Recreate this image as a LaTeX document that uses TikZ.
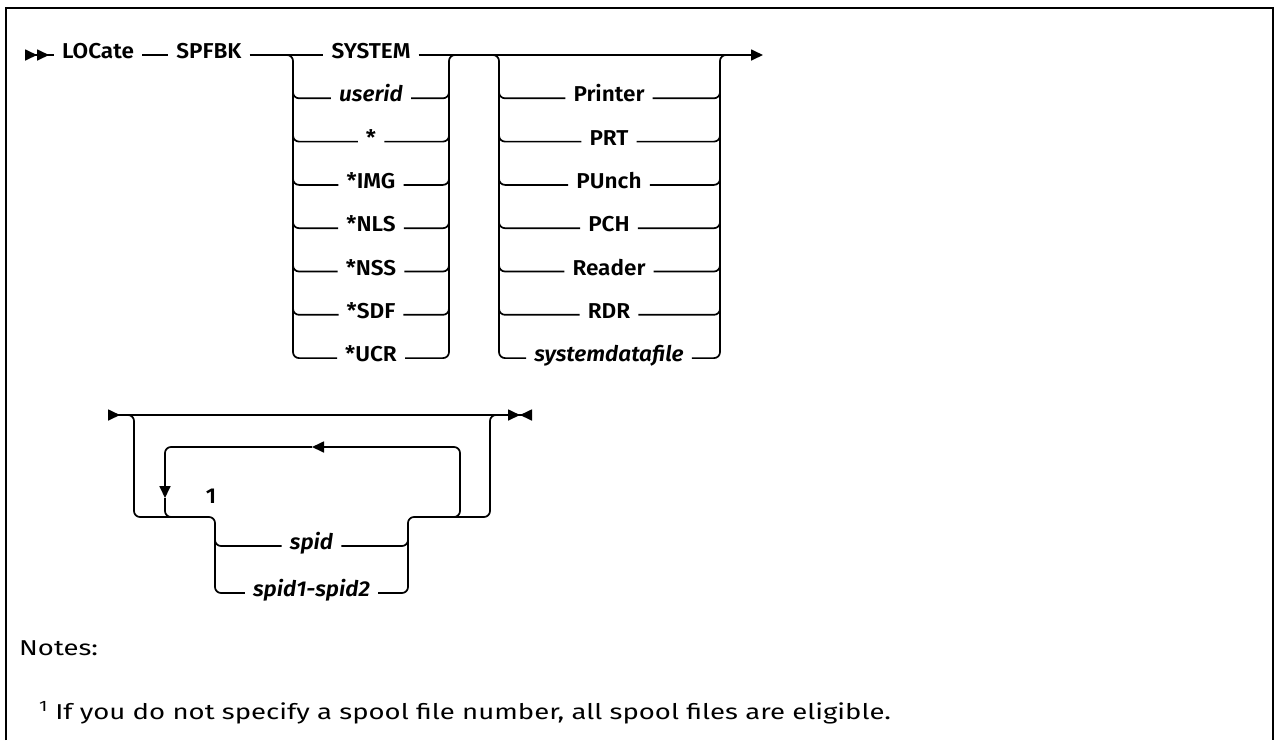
\documentclass[tikz,border=0pt]{standalone}
\usepackage{fontspec}
\setmainfont{Fira Sans}
\newfontfamily\railfont{Fira Sans}[UprightFont={* SemiBold},ItalicFont={* SemiBold Italic},FakeStretch=1.05]
\newfontfamily\notefont{Fira Sans}[FakeStretch=1.28]
\usetikzlibrary{arrows.meta,positioning,calc}
\newcommand{\railsize}{\fontsize{21.5}{25}\selectfont}

\begin{document}
\begin{tikzpicture}[
    x=1pt, y=-1pt,
    font=\railfont\railsize,
    >={Triangle[length=12pt,width=11pt]},
    rail/.style={line width=1.7pt, rounded corners=6pt},
    lbl/.style={inner xsep=8pt, inner ysep=0pt, text height=0.7em, text depth=0pt},
    ilbl/.style={lbl, font=\railfont\railsize\itshape},
    notetxt/.style={anchor=west, inner sep=0pt, font=\notefont\fontsize{21.5}{25}\selectfont}
  ]
  \useasboundingbox (0,0) rectangle (1274,740);

  % --- FRAME ---
  \draw[line width=2pt] (6,740) -- (6,8) -- (1273,8) -- (1273,740);

  % --- FIRST LINE ---
  \coordinate (st1) at (25,55);
  \node[lbl, anchor=west] (locate) at (54,55) {LOCate};
  \node[lbl, right=26pt of locate] (spfbk) {SPFBK};

  \coordinate (g1s) at (293,55);
  \coordinate (g1m) at (449,55);
  \coordinate (g2s) at (499,55);
  \coordinate (g2m) at (720,55);
  \coordinate (end1) at (763,55);

  \node[lbl] (system) at (371,55) {SYSTEM};
  \node[ilbl] (userid) at (371,98.3) {userid};
  \node[lbl] (star) at (371,141.6) {*};
  \node[lbl] (img) at (371,184.9) {*IMG};
  \node[lbl] (nls) at (371,228.2) {*NLS};
  \node[lbl] (nss) at (371,271.5) {*NSS};
  \node[lbl] (sdf) at (371,314.8) {*SDF};
  \node[lbl] (ucr) at (371,358.1) {*UCR};

  \node[lbl] (printer) at (609,98.3) {Printer};
  \node[lbl] (prt) at (609,141.6) {PRT};
  \node[lbl] (punch) at (609,184.9) {PUnch};
  \node[lbl] (pch) at (609,228.2) {PCH};
  \node[lbl] (reader) at (609,271.5) {Reader};
  \node[lbl] (rdr) at (609,314.8) {RDR};
  \node[ilbl] (sdfile) at (609,358.1) {systemdatafile};

  \draw[rail, >>-] (st1) -- (locate);
  \draw[rail] (locate) -- (spfbk);
  \draw[rail] (spfbk) -- (system);
  \draw[rail, ->] (system) -- (end1);

  % owner choice
  \draw[rail] ($(g1s)+(-12,0)$) -- (g1s) -- (g1s |- ucr) -- (ucr.west);
  \draw[rail] (ucr.east) -- (g1m |- ucr) -- (g1m) -- ($(g1m)+(12,0)$);
  \foreach \n in {userid,star,img,nls,nss,sdf} {
    \draw[rail] ($(g1s |- \n)+(0,-12)$) -- (g1s |- \n) -- (\n.west);
    \draw[rail] (\n.east) -- (g1m |- \n) -- ($(g1m |- \n)+(0,-12)$);
  }

  % queue choice
  \draw[rail] ($(g2s)+(-12,0)$) -- (g2s) -- (g2s |- sdfile) -- (sdfile.west);
  \draw[rail] (sdfile.east) -- (g2m |- sdfile) -- (g2m) -- ($(g2m)+(12,0)$);
  \foreach \n in {printer,prt,punch,pch,reader,rdr} {
    \draw[rail] ($(g2s |- \n)+(0,-12)$) -- (g2s |- \n) -- (\n.west);
    \draw[rail] (\n.east) -- (g2m |- \n) -- ($(g2m |- \n)+(0,-12)$);
  }

  % --- SECOND LINE ---
  \coordinate (st2) at (108,415);
  \coordinate (g3s) at (134,415);
  \coordinate (g3m) at (490,415);
  \coordinate (end2) at (532,415);
  \coordinate (g4s) at (215,517);
  \coordinate (g4m) at (408,517);
  \coordinate (lpL) at (165,447);
  \coordinate (lpR) at (460,447);
  \coordinate (lpA) at (312,447);
  \coordinate (lpB) at (165,498);

  \node[ilbl] (spid) at (311.5,546) {spid};
  \node[ilbl] (range) at (311.5,593) {spid1-spid2};
  \node[lbl, inner xsep=0pt] (fn1) at (211,500) {1};

  \draw[rail, >-><] (st2) -- (end2);

  \draw[rail] ($(g3s)+(-12,0)$) -- (g3s) -- (g3s |- g4s) -- (g4s) -- (g4s |- range) -- (range.west);
  \draw[rail] ($(g4s |- spid)+(0,-12)$) -- (g4s |- spid) -- (spid.west);
  \draw[rail] (range.east) -- (g4m |- range) -- (g4m) -- (g3m |- g4m) -- (g3m) -- ($(g3m)+(12,0)$);
  \draw[rail] (spid.east) -- (g4m |- spid) -- ($(g4m |- spid)+(0,-12)$);

  % repeat loop
  \draw[rail, ->] ($(lpR |- g4m)+(-20,0)$) -- (lpR |- g4m) -- (lpR) -- (lpA);
  \draw[rail, ->] (lpA) -- (lpL) -- (lpB);
  \draw[rail] (lpB) -- (lpL |- g4m) -- ($(lpL |- g4m)+(20,0)$);

  % --- NOTES ---
  \node[notetxt] (notes) at (19,648) {Notes:};
  \node[notetxt] (note1) at (39,713) {\textsuperscript{1} If you do not specify a spool file number, all spool files are eligible.};

\end{tikzpicture}
\end{document}
